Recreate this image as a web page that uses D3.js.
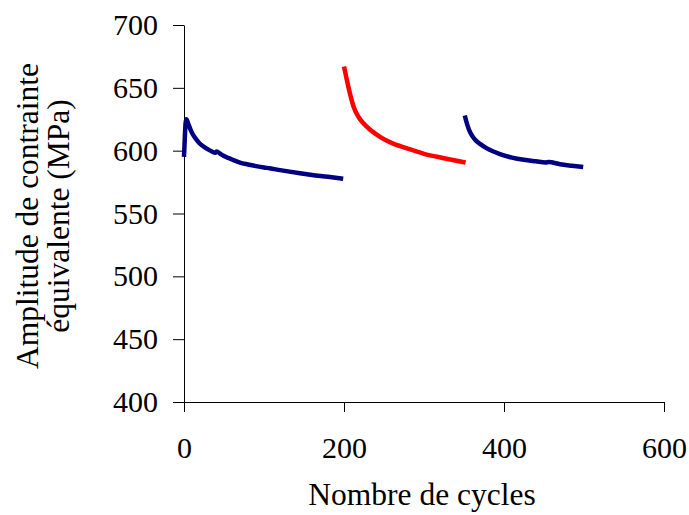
<!DOCTYPE html>
<html><head><meta charset="utf-8">
<script src="https://cdn.jsdelivr.net/npm/d3@7"></script>
<style>body{margin:0;background:#fff}svg{display:block}text{font-family:"Liberation Serif","Times New Roman",serif;fill:#000}</style>
</head><body><svg id="c" width="689" height="515"></svg>
<script>
const xTicks = [0, 200, 400, 600];
const yTicks = [400, 450, 500, 550, 600, 650, 700];
const xLabel = "Nombre de cycles";
const yLabel = ["Amplitude de contrainte", "équivalente (MPa)"];

const blue1Cycles = [0, 1, 2, 3, 5, 8, 12, 16, 20, 24, 30, 35, 39, 41, 43, 46, 50, 60, 70, 80, 90, 100, 107, 120, 145, 160, 180, 199];
const blue1Values = [595, 610, 622, 625, 622, 617, 612, 608.5, 605.5, 603.5, 601, 599.3, 598.3, 599.3, 598.6, 597.3, 595.8, 593, 590.5, 589, 587.7, 586.6, 586, 584.5, 582, 580.7, 579.2, 577.6];
const redCycles = [200, 202, 204, 208, 212, 218, 224, 232, 245, 260, 278, 300, 325, 352];
const redValues = [667, 661, 655, 644, 635, 627, 622, 617, 611, 606, 602, 597.5, 594, 590.5];
const blue2Cycles = [351, 353, 356, 360, 365, 371, 378, 386, 395, 410, 425, 440, 452, 456, 470, 485, 499];
const blue2Values = [628, 623, 617, 612, 608, 605, 602, 599.5, 597.3, 594.5, 592.7, 591.5, 590.6, 590.9, 589.2, 588, 587];

const FS = 30, FT = 31.5;
const svg = d3.select("#c");
const x = d3.scaleLinear().domain([0, 600]).range([184, 664]);
const y = d3.scaleLinear().domain([400, 700]).range([402, 25]);

const xa = svg.append("g").attr("transform", "translate(0,402)")
  .call(d3.axisBottom(x).tickValues(xTicks).tickSize(10).tickPadding(25).tickSizeOuter(0));
const ya = svg.append("g").attr("transform", "translate(184,0)")
  .call(d3.axisLeft(y).tickValues(yTicks).tickSize(11).tickPadding(15).tickSizeOuter(0));
[xa, ya].forEach(g => {
  g.selectAll("path,line").attr("stroke", "#000").attr("stroke-width", 1);
  g.selectAll("text").attr("font-size", FS).attr("font-family", "Liberation Serif");
});
svg.append("line").attr("x1", 173).attr("x2", 664).attr("y1", 402.5).attr("y2", 402.5).attr("stroke", "#000");

const line = d3.line().x(d => x(d[0])).y(d => y(d[1])).curve(d3.curveMonotoneX);
const series = [
  [d3.zip(blue1Cycles, blue1Values), "#000080"],
  [d3.zip(redCycles, redValues), "#ff0000"],
  [d3.zip(blue2Cycles, blue2Values), "#000080"]
];
series.forEach(([d, c]) => svg.append("path").datum(d).attr("d", line)
  .attr("fill", "none").attr("stroke", c).attr("stroke-width", 4.5).attr("stroke-linejoin", "round"));

svg.append("text").attr("x", 422).attr("y", 505).attr("text-anchor", "middle").attr("font-size", FT).text(xLabel);
const yl = svg.append("text").attr("transform", "translate(38,216) rotate(-90)").attr("text-anchor", "middle").attr("font-size", FT);
yl.append("tspan").attr("x", 0).attr("y", 0).text(yLabel[0]);
yl.append("tspan").attr("x", 0).attr("y", 31).text(yLabel[1]);
</script></body></html>
